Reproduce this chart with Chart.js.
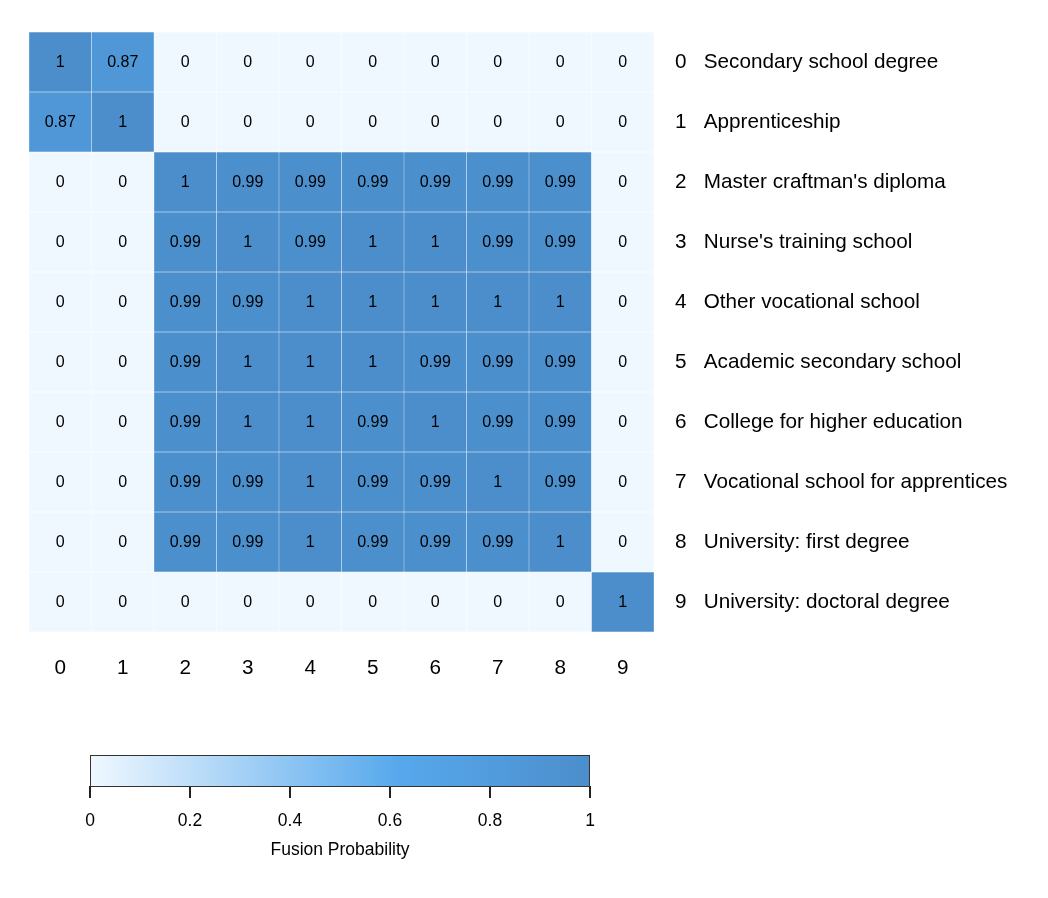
<!DOCTYPE html>
<html>
<head>
<meta charset="utf-8">
<script src="https://cdn.jsdelivr.net/npm/chart.js@4.4.1/dist/chart.umd.min.js"></script>
<style>
  html, body { margin: 0; padding: 0; background: #fff; }
  #wrap { position: relative; width: 1048px; height: 898px; }
  #heat { position: absolute; left: 0; top: 0; }
  #bar { position: absolute; left: 0; top: 720px; }
</style>
</head>
<body>
<div id="wrap">
  <canvas id="heat" width="1048" height="720"></canvas>
  <canvas id="bar" width="1048" height="178"></canvas>
</div>
<script>
// categories
var codes = ['0', '1', '2', '3', '4', '5', '6', '7', '8', '9'];
var degrees = [
    "Secondary school degree",
    "Apprenticeship",
    "Master craftman's diploma",
    "Nurse's training school",
    "Other vocational school",
    "Academic secondary school",
    "College for higher education",
    "Vocational school for apprentices",
    "University: first degree",
    "University: doctoral degree"
];

// fusion probabilities, one row per degree
var row0 = [1, 0.87, 0, 0, 0, 0, 0, 0, 0, 0];
var row1 = [0.87, 1, 0, 0, 0, 0, 0, 0, 0, 0];
var row2 = [0, 0, 1, 0.99, 0.99, 0.99, 0.99, 0.99, 0.99, 0];
var row3 = [0, 0, 0.99, 1, 0.99, 1, 1, 0.99, 0.99, 0];
var row4 = [0, 0, 0.99, 0.99, 1, 1, 1, 1, 1, 0];
var row5 = [0, 0, 0.99, 1, 1, 1, 0.99, 0.99, 0.99, 0];
var row6 = [0, 0, 0.99, 1, 1, 0.99, 1, 0.99, 0.99, 0];
var row7 = [0, 0, 0.99, 0.99, 1, 0.99, 0.99, 1, 0.99, 0];
var row8 = [0, 0, 0.99, 0.99, 1, 0.99, 0.99, 0.99, 1, 0];
var row9 = [0, 0, 0, 0, 0, 0, 0, 0, 0, 1];
var rows = [row0, row1, row2, row3, row4, row5, row6, row7, row8, row9];

// colour bar ticks
var barTicks = [0, 0.2, 0.4, 0.6, 0.8, 1];

var FONT = "'Liberation Sans', Arial, Helvetica, sans-serif";

// colour ramp
var stops = [
    [0, [240, 248, 255]],
    [0.62, [86, 168, 236]],
    [1, [76, 142, 204]]
];

function rampColor(v) {
    for (var i = 1; i < stops.length; i++) {
        if (v <= stops[i][0]) {
            var a = stops[i - 1], b = stops[i];
            var t = (v - a[0]) / (b[0] - a[0]);
            var c = a[1].map(function (x, k) { return Math.round(x + (b[1][k] - x) * t); });
            return 'rgb(' + c.join(',') + ')';
        }
    }
    var last = stops[stops.length - 1][1];
    return 'rgb(' + last.join(',') + ')';
}

/*
| Heatmap (floating bars, one dataset per row)
*/

var datasets = rows.map(function (vals, r) {
    return {
        label: degrees[r],
        data: vals.map(function () { return [r - 0.5, r + 0.5]; }),
        values: vals,
        backgroundColor: vals.map(rampColor),
        borderColor: 'rgba(255,255,255,0.14)',
        borderWidth: 0.5,
        borderSkipped: false,
        grouped: false,
        barPercentage: 1,
        categoryPercentage: 1
    };
});

var cellText = {
    id: 'cellText',
    afterDatasetsDraw: function (chart) {
        var ctx = chart.ctx;
        ctx.save();
        ctx.font = '16px ' + FONT;
        ctx.fillStyle = '#000';
        ctx.textAlign = 'center';
        ctx.textBaseline = 'middle';
        chart.data.datasets.forEach(function (ds, i) {
            chart.getDatasetMeta(i).data.forEach(function (el, j) {
                ctx.fillText(String(ds.values[j]), el.x, (el.y + el.base) / 2 + 1);
            });
        });
        ctx.restore();
    }
};

new Chart(document.getElementById('heat').getContext('2d'), {
    type: 'bar',
    data: { labels: codes, datasets: datasets },
    options: {
        responsive: false,
        animation: false,
        events: [],
        layout: { padding: { left: 29, top: 32, right: 0, bottom: 0 } },
        plugins: { legend: { display: false }, tooltip: { enabled: false } },
        scales: {
            x: {
                grid: { display: false },
                border: { display: false },
                ticks: { color: '#000', font: { family: FONT, size: 20.7 }, padding: 16, maxRotation: 0 },
                afterFit: function (s) { s.height = 88; }
            },
            y: {
                position: 'right',
                reverse: true,
                min: -0.5,
                max: 9.5,
                grid: { display: false },
                border: { display: false },
                afterBuildTicks: function (s) {
                    s.ticks = codes.map(function (c, i) { return { value: i }; });
                },
                ticks: {
                    color: '#000',
                    font: { family: FONT, size: 20.7 },
                    padding: 13,
                    callback: function (v) { return codes[v] + '   ' + degrees[v]; }
                },
                afterFit: function (s) { s.width = 394; }
            }
        }
    },
    plugins: [cellText]
});

/*
| Colour bar
*/

var gradientBar = {
    id: 'gradientBar',
    beforeDatasetsDraw: function (chart) {
        var ctx = chart.ctx, a = chart.chartArea, xs = chart.scales.x;
        var x0 = xs.getPixelForValue(0), x1 = xs.getPixelForValue(1);
        var g = ctx.createLinearGradient(x0, 0, x1, 0);
        stops.forEach(function (s) { g.addColorStop(s[0], rampColor(s[0])); });
        ctx.save();
        ctx.fillStyle = g;
        ctx.fillRect(x0, a.top, x1 - x0, a.bottom - a.top);
        ctx.strokeStyle = '#333';
        ctx.lineWidth = 1;
        ctx.strokeRect(x0 + 0.5, a.top + 0.5, x1 - x0 - 1, a.bottom - a.top);
        ctx.restore();
    }
};

new Chart(document.getElementById('bar').getContext('2d'), {
    type: 'scatter',
    data: { datasets: [{ data: [] }] },
    options: {
        responsive: false,
        animation: false,
        events: [],
        layout: { padding: { left: 90, right: 458, top: 35, bottom: 33 } },
        plugins: { legend: { display: false }, tooltip: { enabled: false } },
        scales: {
            x: {
                type: 'linear',
                min: 0,
                max: 1,
                afterBuildTicks: function (s) {
                    s.ticks = barTicks.map(function (v) { return { value: v }; });
                },
                grid: { drawOnChartArea: false, drawTicks: true, tickLength: 12, color: '#222', lineWidth: 2 },
                border: { display: false },
                ticks: {
                    color: '#000',
                    font: { family: FONT, size: 17.5 },
                    padding: 13,
                    maxRotation: 0,
                    callback: function (v) { return String(v); }
                },
                title: { display: true, text: 'Fusion Probability', color: '#000', font: { family: FONT, size: 17.5 }, padding: { top: 6 } },
                afterFit: function (s) { s.height = 79; }
            },
            y: { display: false, min: 0, max: 1 }
        }
    },
    plugins: [gradientBar]
});
</script>
</body>
</html>
